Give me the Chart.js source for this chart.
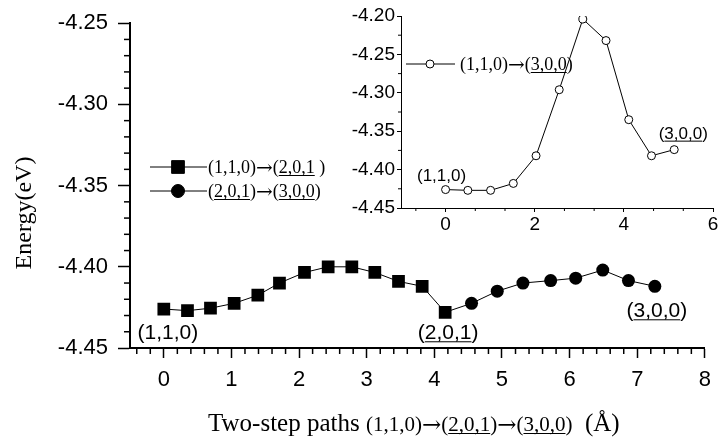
<!DOCTYPE html>
<html>
<head>
<meta charset="utf-8">
<script src="https://cdn.jsdelivr.net/npm/chart.js@4/dist/chart.umd.min.js"></script>
<style>
  body { margin: 0; background: #fff; }
  #wrap { position: relative; width: 720px; height: 440px; }
  #mainChart { position: absolute; left: 0; top: 0; }
  #insetChart { position: absolute; left: 330px; top: 0; }
</style>
</head>
<body>
<div id="wrap">
  <canvas id="mainChart" width="720" height="440"></canvas>
  <canvas id="insetChart" width="390" height="240"></canvas>
</div>
<script>
// two-step path, first step (1,1,0) -> (2,0,1)
var stepOneX = [0, 0.35, 0.69, 1.04, 1.39, 1.71, 2.08, 2.43, 2.78, 3.12, 3.47, 3.82, 4.16];
var stepOneE = [-4.426, -4.427, -4.4255, -4.4225, -4.4175, -4.410, -4.4035, -4.400, -4.400, -4.4035, -4.409, -4.412, -4.428];
// second step (2,0,1) -> (3,0,0); first entry is the shared (2,0,1) point
var stepTwoX = [4.16, 4.55, 4.93, 5.31, 5.72, 6.09, 6.49, 6.87, 7.26];
var stepTwoE = [-4.428, -4.4225, -4.415, -4.410, -4.4085, -4.407, -4.402, -4.4085, -4.412];
// direct path (1,1,0) -> (3,0,0), shown in the inset
var directX = [0, 0.5, 1.01, 1.52, 2.03, 2.55, 3.08, 3.60, 4.11, 4.62, 5.13];
var directE = [-4.426, -4.427, -4.427, -4.418, -4.382, -4.296, -4.204, -4.232, -4.335, -4.382, -4.374];

// tick labels
var mainXTicks = [0, 1, 2, 3, 4, 5, 6, 7, 8];
var mainYTicks = [-4.45, -4.40, -4.35, -4.30, -4.25];
var insetXTicks = [0, 2, 4, 6];
var insetYTicks = [-4.45, -4.40, -4.35, -4.30, -4.25, -4.20];

var SANS = '"Liberation Sans", Arial, sans-serif';
var SERIF = '"Liberation Serif", "Times New Roman", serif';
var ARROW = '"DejaVu Serif", serif';

function toPoints(xs, ys) {
  return xs.map(function (x, i) { return { x: x, y: ys[i] }; });
}

// turns [[text, underlined], ...] into text pieces, arrows get their own font
function serifParts(size, pieces) {
  var out = [];
  pieces.forEach(function (pc) {
    pc[0].split(/(\u2192)/).forEach(function (s) {
      if (!s) return;
      if (s === "\u2192") out.push({ t: s, font: Math.round(size * 1.1) + "px " + ARROW, dy: 1 });
      else out.push({ t: s, font: size + "px " + SERIF, u: pc[1] });
    });
  });
  return out;
}

// draws a run of text pieces, some of them underlined
function richText(ctx, parts, x, y, align) {
  var total = 0;
  parts.forEach(function (p) {
    ctx.font = p.font;
    p.w = ctx.measureText(p.t).width;
    total += p.w;
  });
  var cx = align === "center" ? x - total / 2 : x;
  ctx.textAlign = "left";
  ctx.textBaseline = "alphabetic";
  parts.forEach(function (p) {
    ctx.font = p.font;
    ctx.fillText(p.t, cx, y + (p.dy || 0));
    if (p.u) ctx.fillRect(cx, y + 2, p.w, 1);
    cx += p.w;
  });
}

function minorTicks(ctx, scale, values, len, horizontal, edge) {
  values.forEach(function (v) {
    var p = scale.getPixelForValue(v);
    ctx.beginPath();
    if (horizontal) { ctx.moveTo(p, edge); ctx.lineTo(p, edge + len); }
    else { ctx.moveTo(edge, p); ctx.lineTo(edge - len, p); }
    ctx.stroke();
  });
}

function legendRow(ctx, style, x1, x2, mx, y, r, fill) {
  ctx.beginPath();
  ctx.moveTo(x1, y);
  ctx.lineTo(x2, y);
  ctx.stroke();
  ctx.beginPath();
  if (style === "rect") {
    var s = Math.SQRT1_2 * r;
    ctx.rect(mx - s, y - s, 2 * s, 2 * s);
  } else {
    ctx.arc(mx, y, r, 0, Math.PI * 2);
  }
  ctx.fillStyle = fill;
  ctx.fill();
  ctx.stroke();
  ctx.fillStyle = "#000";
}

var mainDecor = {
  id: "mainDecor",
  afterDraw: function (chart) {
    var ctx = chart.ctx, xs = chart.scales.x, ys = chart.scales.y, area = chart.chartArea;
    ctx.save();
    ctx.strokeStyle = "#000";
    ctx.fillStyle = "#000";
    ctx.lineWidth = 1.5;

    var xm = [], ym = [], i;
    for (i = -2; i < 40; i++) if (i % 5 !== 0) xm.push(i * 0.2);
    for (i = 1; i < 20; i++) if (i % 5 !== 0) ym.push(-4.45 + i * 0.01);
    minorTicks(ctx, xs, xm, 6, true, area.bottom);
    minorTicks(ctx, ys, ym, 6, false, area.left);

    // state labels next to the curve
    var f = "21px " + SANS;
    var n0 = 0, n1 = stepOneX.length - 1, n2 = stepTwoX.length - 1;
    richText(ctx, [{ t: "(1,1,0)", font: f }],
      xs.getPixelForValue(stepOneX[n0]) + 4, ys.getPixelForValue(stepOneE[n0]) + 30, "center");
    richText(ctx, [{ t: "(", font: f }, { t: "2,0,1", font: f, u: true }, { t: ")", font: f }],
      xs.getPixelForValue(stepOneX[n1]) + 3, ys.getPixelForValue(stepOneE[n1]) + 27, "center");
    richText(ctx, [{ t: "(", font: f }, { t: "3,0,0", font: f, u: true }, { t: ")", font: f }],
      xs.getPixelForValue(stepTwoX[n2]) + 2, ys.getPixelForValue(stepTwoE[n2]) + 31, "center");

    // legend
    ctx.lineWidth = 1;
    legendRow(ctx, "rect", 150, 207, 178, 167, 9, "#000");
    richText(ctx, serifParts(18, [["(1,1,0)\u2192(", false], ["2,0,1", true], [" )", false]]), 208, 173);
    legendRow(ctx, "circle", 150, 207, 178, 191, 6.5, "#000");
    richText(ctx, serifParts(18, [["(", false], ["2,0,1", true], [")\u2192(", false], ["3,0,0", true], [")", false]]), 208, 197);

    // axis titles
    var tf = "25px " + SERIF;
    var title = [{ t: "Two-step paths ", font: tf }].concat(
      serifParts(21, [["(1,1,0)\u2192(", false], ["2,0,1", true], [")\u2192(", false], ["3,0,0", true], [")", false]]),
      [{ t: "  (\u00C5)", font: tf }]);
    richText(ctx, title, 208, 431);

    ctx.translate(25, 213);
    ctx.rotate(-Math.PI / 2);
    ctx.font = "24px " + SERIF;
    ctx.textAlign = "center";
    ctx.textBaseline = "middle";
    ctx.fillText("Energy(eV)", 0, 0);
    ctx.restore();
  }
};

var insetDecor = {
  id: "insetDecor",
  afterDraw: function (chart) {
    var ctx = chart.ctx, xs = chart.scales.x, ys = chart.scales.y, area = chart.chartArea;
    ctx.save();
    ctx.strokeStyle = "#000";
    ctx.fillStyle = "#000";
    ctx.lineWidth = 1;

    var xm = [], ym = [], k;
    for (k = -1; k < 9; k++) if (k % 3 !== 0) xm.push(k * 2 / 3);
    for (k = 0; k < 5; k++) ym.push(-4.425 + k * 0.05);
    minorTicks(ctx, xs, xm, 3, true, area.bottom);
    minorTicks(ctx, ys, ym, 3, false, area.left);

    var f = "17px " + SANS;
    var last = directX.length - 1;
    richText(ctx, [{ t: "(1,1,0)", font: f }],
      xs.getPixelForValue(directX[0]) - 4, ys.getPixelForValue(directE[0]) - 9, "center");
    richText(ctx, [{ t: "(", font: f }, { t: "3,0,0", font: f, u: true }, { t: ")", font: f }],
      xs.getPixelForValue(directX[last]) + 9, ys.getPixelForValue(directE[last]) - 11, "center");

    legendRow(ctx, "circle", 76, 125, 100, 64, 4, "#fff");
    richText(ctx, serifParts(18, [["(1,1,0)\u2192(", false], ["3,0,0", true], [")", false]]), 130, 70);
    ctx.restore();
  }
};

function fixedTicks(list) {
  return function (scale) {
    scale.ticks = list.map(function (v) { return { value: v }; });
  };
}

new Chart(document.getElementById("mainChart").getContext("2d"), {
  type: "line",
  data: {
    datasets: [
      {
        data: toPoints(stepOneX, stepOneE),
        borderColor: "#000",
        borderWidth: 1,
        pointStyle: "rect",
        pointRadius: 9,
        pointBackgroundColor: "#000",
        pointBorderWidth: 0,
        tension: 0,
      },
      {
        data: toPoints(stepTwoX, stepTwoE),
        borderColor: "#000",
        borderWidth: 1,
        pointStyle: "circle",
        pointRadius: function (c) { return c.dataIndex === 0 ? 0 : 6.5; },
        pointBackgroundColor: "#000",
        pointBorderWidth: 0,
        tension: 0,
      },
    ],
  },
  options: {
    responsive: false,
    animation: false,
    events: [],
    layout: { padding: { top: 21, right: 9, left: 0, bottom: 0 } },
    plugins: { legend: { display: false }, tooltip: { enabled: false } },
    scales: {
      x: {
        type: "linear",
        min: -0.5,
        max: 8,
        afterBuildTicks: fixedTicks(mainXTicks),
        afterFit: function (s) { s.height = 92; },
        grid: { drawOnChartArea: false, tickLength: 10, tickColor: "#000", tickWidth: 1.5 },
        border: { color: "#000", width: 2 },
        ticks: { color: "#000", padding: 9, maxRotation: 0, font: { family: SANS, size: 22 } },
      },
      y: {
        min: -4.45,
        max: -4.25,
        afterBuildTicks: fixedTicks(mainYTicks),
        afterFit: function (s) { s.width = 130; },
        grid: { drawOnChartArea: false, tickLength: 12, tickColor: "#000", tickWidth: 1.5 },
        border: { color: "#000", width: 2 },
        ticks: {
          color: "#000",
          padding: 10,
          font: { family: SANS, size: 22 },
          callback: function (v) { return v.toFixed(2); },
        },
      },
    },
  },
  plugins: [mainDecor],
});

new Chart(document.getElementById("insetChart").getContext("2d"), {
  type: "line",
  data: {
    datasets: [
      {
        data: toPoints(directX, directE),
        borderColor: "#000",
        borderWidth: 1,
        pointStyle: "circle",
        pointRadius: 4,
        pointBackgroundColor: "#fff",
        pointBorderColor: "#000",
        pointBorderWidth: 1,
        tension: 0,
      },
    ],
  },
  options: {
    responsive: false,
    animation: false,
    events: [],
    layout: { padding: { top: 16, right: 7, left: 0, bottom: 0 } },
    plugins: { legend: { display: false }, tooltip: { enabled: false } },
    scales: {
      x: {
        type: "linear",
        min: -1,
        max: 6,
        afterBuildTicks: fixedTicks(insetXTicks),
        afterFit: function (s) { s.height = 32; },
        grid: { drawOnChartArea: false, tickLength: 4, tickColor: "#000" },
        border: { color: "#000", width: 1 },
        ticks: { color: "#000", padding: 1, maxRotation: 0, font: { family: SANS, size: 19 } },
      },
      y: {
        min: -4.45,
        max: -4.20,
        afterBuildTicks: fixedTicks(insetYTicks),
        afterFit: function (s) { s.width = 71; },
        grid: { drawOnChartArea: false, tickLength: 4, tickColor: "#000" },
        border: { color: "#000", width: 1 },
        ticks: {
          color: "#000",
          padding: 2,
          font: { family: SANS, size: 19 },
          callback: function (v) { return v.toFixed(2); },
        },
      },
    },
  },
  plugins: [insetDecor],
});
</script>
</body>
</html>
